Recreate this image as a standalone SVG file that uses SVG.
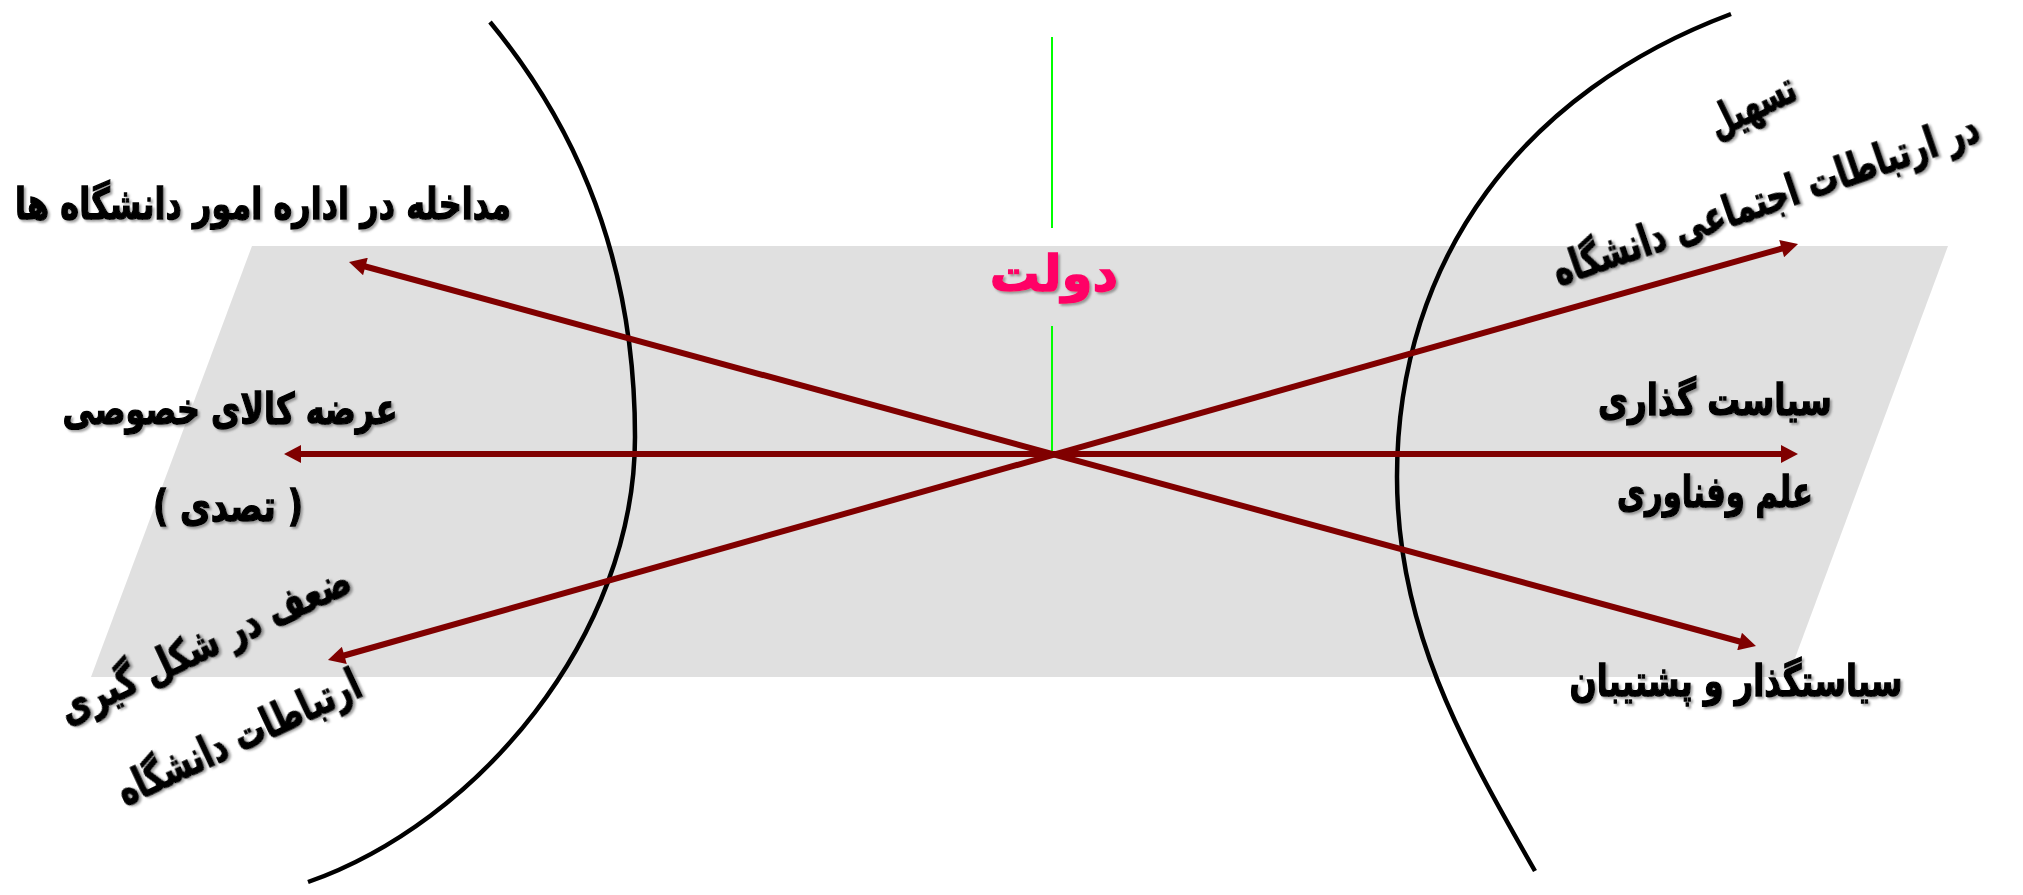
<svg xmlns="http://www.w3.org/2000/svg" width="2023" height="895" viewBox="0 0 2023 895">
<style>
.lbl{font-family:"DejaVu Sans","Noto Sans",sans-serif;font-weight:bold;font-size:43px;fill:#000;stroke:#000;stroke-width:1.4;text-anchor:middle;filter:url(#sh)}
.title{font-family:"DejaVu Sans","Noto Sans",sans-serif;font-weight:bold;font-size:50px;fill:#FF0066;stroke:#FF0066;stroke-width:1.4;text-anchor:middle;filter:url(#sh)}
.arc{fill:none;stroke:#000;stroke-width:4.5}
.arr{stroke:#800000;stroke-width:6;fill:none;marker-start:url(#ah);marker-end:url(#ah)}
.axis{stroke:#00FF00;stroke-width:2}
</style>
<defs>
<filter id="sh" x="-10%" y="-30%" width="120%" height="160%">
<feDropShadow dx="2" dy="2" stdDeviation="1.2" flood-color="#666" flood-opacity="0.6"/>
</filter>
<marker id="ah" markerUnits="userSpaceOnUse" markerWidth="18" markerHeight="18" viewBox="0 0 17 18" refX="2" refY="9" orient="auto-start-reverse">
<path d="M0,0 L17,9 L0,18 z" fill="#800000"/>
</marker>
</defs>
<rect width="2023" height="895" fill="#fff"/>
<polygon id="plane" points="252,246 1948,246 1788,677 91,677" fill="#E0E0E0"/>
<g id="arcs">
<path class="arc" d="M490,22 C560,107 635,237 635,437 C635,637 477,823 308,882"/>
<path class="arc" d="M1731,14 C1525,91 1397,257 1397,477 C1397,627 1460,740 1535,871"/>
</g>
<g id="axis">
<line class="axis" x1="1052" y1="37" x2="1052" y2="228"/>
<line class="axis" x1="1052" y1="326" x2="1052" y2="452"/>
</g>
<g id="connectors">
<line class="arr" x1="363.5" y1="266" x2="1741.5" y2="642"/>
<line class="arr" x1="299" y1="454" x2="1783" y2="454"/>
<line class="arr" x1="342.4" y1="656" x2="1783.6" y2="248"/>
</g>
<g id="node-state"><text class="title" x="1054" y="291">دولت</text></g>
<g id="node-interference"><text class="lbl" x="263" y="219" textLength="496" lengthAdjust="spacingAndGlyphs">مداخله در اداره امور دانشگاه ها</text></g>
<g id="node-private"><text class="lbl" x="230" y="424" textLength="335" lengthAdjust="spacingAndGlyphs">عرضه کالای خصوصی</text>
<text class="lbl" x="228" y="521" textLength="150" lengthAdjust="spacingAndGlyphs">( تصدی )</text></g>
<g id="node-weakness" transform="translate(205,645) rotate(-25)"><text class="lbl" x="0" y="14" textLength="317" lengthAdjust="spacingAndGlyphs">ضعف در شکل گیری</text></g>
<g id="node-weakness2" transform="translate(239,738) rotate(-25)"><text class="lbl" x="0" y="14" textLength="264" lengthAdjust="spacingAndGlyphs">ارتباطات دانشگاه</text></g>
<g id="node-facilitate" transform="translate(1752,106) rotate(-26)"><text class="lbl" x="0" y="14" textLength="92" lengthAdjust="spacingAndGlyphs">تسهیل</text></g>
<g id="node-facilitate2" transform="translate(1766,200) rotate(-19)"><text class="lbl" x="0" y="14" textLength="448" lengthAdjust="spacingAndGlyphs">در ارتباطات اجتماعی دانشگاه</text></g>
<g id="node-policy"><text class="lbl" x="1715" y="415" textLength="234" lengthAdjust="spacingAndGlyphs">سیاست گذاری</text>
<text class="lbl" x="1715" y="507" textLength="196" lengthAdjust="spacingAndGlyphs">علم وفناوری</text></g>
<g id="node-support"><text class="lbl" x="1736" y="696" textLength="333" lengthAdjust="spacingAndGlyphs">سیاستگذار و پشتیبان</text></g>
</svg>
